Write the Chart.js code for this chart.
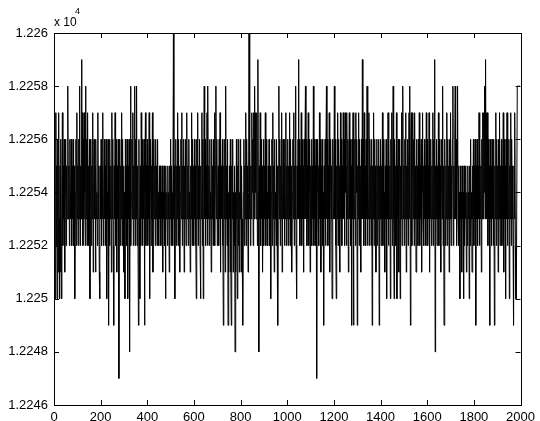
<!DOCTYPE html>
<html>
<head>
<meta charset="utf-8">
<script src="https://cdn.jsdelivr.net/npm/chart.js@4/dist/chart.umd.min.js"></script>
<style>
  html, body { margin: 0; padding: 0; background: #fff; }
  #wrap { width: 540px; height: 421px; position: relative; }
</style>
</head>
<body>
<div id="wrap"><canvas id="myChart"></canvas></div>
<script>
// --- data: one sample every 2 steps (20 per row = 40 steps) ---
const SAMPLE_STEP = 2;
const signal = [
  12257,12251,12256,12250,12257,12252,12255,12250,12256,12251,12257,12253,12250,12255,12251,12256,12250,12254,12257,12252,
  12255,12253,12256,12251,12254,12256,12252,12255,12253,12257,12258,12253,12255,12252,12256,12254,12253,12256,12252,12255,
  12253,12256,12252,12255,12253,12250,12254,12256,12252,12257,12253,12255,12252,12256,12253,12258,12252,12255,12253,12259,
  12253,12257,12252,12256,12253,12257,12254,12252,12258,12253,12256,12252,12257,12253,12255,12252,12256,12250,12254,12256,
  12252,12255,12253,12257,12251,12254,12256,12253,12255,12251,12256,12253,12254,12252,12257,12253,12255,12251,12250,12255,
  12253,12256,12252,12255,12253,12257,12252,12254,12256,12253,12255,12252,12256,12250,12254,12253,12256,12249,12255,12252,
  12256,12253,12255,12251,12257,12253,12256,12252,12249,12255,12253,12257,12252,12256,12254,12251,12255,12253,12256,12247,
  12254,12256,12252,12255,12253,12257,12252,12256,12253,12255,12251,12254,12250,12256,12253,12255,12252,12256,12250,12255,
  12253,12256,12248,12255,12258,12252,12254,12256,12253,12257,12252,12255,12253,12258,12252,12256,12253,12258,12252,12255,
  12254,12249,12256,12253,12250,12255,12252,12257,12253,12256,12252,12255,12253,12256,12249,12254,12257,12252,12255,12253,
  12256,12252,12255,12253,12257,12250,12254,12256,12252,12255,12253,12257,12251,12254,12256,12253,12255,12252,12256,12253,
  12255,12252,12256,12253,12254,12252,12255,12253,12255,12252,12254,12253,12255,12251,12254,12253,12255,12252,12254,12250,
  12255,12253,12254,12252,12255,12253,12254,12251,12255,12253,12256,12252,12255,12253,12254,12252,12260,12253,12255,12250,
  12254,12256,12252,12255,12253,12257,12252,12256,12253,12255,12251,12254,12256,12253,12257,12252,12255,12253,12256,12251,
  12255,12253,12256,12252,12254,12257,12253,12255,12252,12256,12253,12254,12251,12255,12253,12257,12252,12256,12253,12255,
  12252,12256,12253,12255,12252,12250,12256,12253,12257,12252,12255,12253,12256,12252,12250,12255,12253,12257,12252,12256,
  12250,12255,12258,12253,12256,12252,12255,12253,12257,12252,12258,12253,12255,12252,12256,12253,12254,12251,12256,12253,
  12255,12252,12256,12253,12257,12252,12255,12258,12253,12256,12252,12254,12255,12252,12256,12253,12257,12251,12255,12253,
  12254,12256,12252,12249,12255,12253,12256,12251,12258,12253,12255,12252,12256,12249,12254,12251,12255,12253,12256,12251,
  12249,12255,12253,12256,12251,12254,12252,12255,12248,12254,12251,12256,12253,12250,12255,12252,12256,12251,12254,12253,
  12256,12251,12255,12253,12250,12249,12254,12256,12252,12255,12253,12257,12252,12256,12253,12255,12251,12254,12260,12253,
  12256,12252,12255,12253,12257,12254,12256,12252,12257,12253,12258,12254,12257,12253,12256,12257,12252,12259,12254,12248,
  12255,12253,12257,12252,12256,12253,12255,12251,12254,12256,12252,12255,12253,12257,12252,12256,12253,12254,12252,12255,
  12253,12256,12252,12255,12253,12250,12254,12256,12252,12257,12253,12255,12251,12256,12253,12254,12252,12256,12253,12255,
  12249,12255,12258,12253,12256,12252,12255,12253,12257,12251,12254,12256,12253,12255,12252,12256,12253,12257,12252,12255,
  12253,12256,12252,12255,12253,12257,12252,12256,12253,12255,12251,12254,12256,12253,12257,12252,12255,12253,12258,12252,
  12250,12255,12253,12256,12259,12253,12256,12252,12255,12253,12257,12252,12256,12253,12255,12251,12256,12253,12255,12258,
  12253,12256,12252,12255,12253,12257,12252,12254,12256,12251,12255,12253,12256,12252,12255,12253,12258,12252,12256,12253,
  12255,12252,12256,12247,12254,12256,12253,12255,12252,12257,12253,12256,12251,12255,12253,12256,12252,12254,12249,12255,
  12253,12256,12252,12255,12258,12253,12256,12252,12255,12253,12257,12251,12254,12256,12253,12255,12250,12254,12256,12253,
  12255,12258,12253,12256,12252,12250,12255,12253,12257,12252,12256,12253,12255,12251,12257,12253,12256,12252,12255,12253,
  12257,12253,12256,12252,12257,12254,12255,12252,12257,12253,12256,12251,12255,12257,12253,12256,12252,12255,12249,12256,
  12253,12257,12249,12255,12253,12256,12252,12257,12254,12256,12249,12255,12253,12257,12252,12256,12253,12255,12251,12256,
  12253,12259,12253,12256,12252,12257,12253,12255,12252,12256,12253,12258,12252,12255,12253,12257,12252,12256,12253,12255,
  12252,12256,12249,12255,12253,12257,12252,12256,12253,12255,12251,12254,12256,12252,12255,12253,12256,12249,12255,12253,
  12256,12252,12255,12253,12257,12252,12256,12253,12254,12251,12255,12253,12256,12250,12255,12253,12257,12252,12256,12253,
  12255,12250,12256,12253,12257,12252,12255,12258,12253,12250,12256,12253,12255,12252,12257,12250,12255,12253,12256,12251,
  12254,12256,12250,12255,12253,12257,12252,12256,12258,12253,12255,12252,12256,12253,12257,12251,12255,12253,12256,12252,
  12255,12257,12253,12258,12249,12256,12257,12252,12255,12257,12253,12256,12252,12257,12253,12255,12251,12256,12253,12255,
  12252,12256,12253,12257,12252,12255,12253,12256,12251,12254,12257,12253,12255,12252,12256,12253,12255,12252,12257,12253,
  12256,12252,12255,12253,12257,12251,12255,12253,12256,12252,12255,12253,12257,12252,12256,12253,12259,12248,12255,12253,
  12256,12252,12255,12253,12257,12252,12256,12253,12255,12251,12254,12256,12253,12258,12252,12255,12249,12254,12256,12252,
  12255,12253,12257,12252,12256,12253,12255,12251,12256,12253,12257,12252,12255,12253,12256,12258,12252,12255,12253,12256,
  12258,12253,12256,12252,12255,12258,12253,12255,12252,12254,12250,12255,12253,12254,12251,12255,12253,12254,12250,12255,
  12252,12254,12253,12255,12251,12254,12252,12255,12253,12254,12250,12255,12252,12256,12253,12254,12251,12255,12253,12256,
  12252,12255,12253,12256,12249,12255,12253,12256,12252,12255,12253,12257,12252,12256,12253,12255,12251,12256,12253,12257,
  12253,12257,12254,12258,12253,12259,12254,12257,12253,12257,12252,12256,12253,12255,12249,12256,12253,12255,12252,12256,
  12253,12255,12252,12256,12249,12255,12253,12257,12252,12256,12253,12255,12251,12256,12253,12257,12252,12255,12253,12256,
  12252,12255,12253,12257,12251,12256,12253,12255,12250,12256,12253,12257,12252,12255,12253,12256,12250,12255,12253,12257,
  12252,12256,12253,12255,12252,12249,12255,12253,12257,12252,12250,12250,12250,12258,12258,12258,12258,12258,12258,12258,
  12258
];
const xTicks = [0, 200, 400, 600, 800, 1000, 1200, 1400, 1600, 1800, 2000];
const yTicks = [12246, 12248, 12250, 12252, 12254, 12256, 12258, 12260];
const yTickLabels = ['1.2246', '1.2248', '1.225', '1.2252', '1.2254', '1.2256', '1.2258', '1.226'];

const FONT = 'Liberation Sans, Arial, Helvetica, sans-serif';

const points = signal.map((v, i) => ({ x: i * SAMPLE_STEP, y: v }));

// matlab style box: frame all round, ticks pointing inside, exponent label on top
const matlabBox = {
  id: 'matlabBox',
  afterDraw(chart) {
    const { ctx, chartArea: a, scales: { x, y } } = chart;
    ctx.save();
    ctx.strokeStyle = '#000'; ctx.lineWidth = 1;
    ctx.strokeRect(Math.round(a.left) + 0.5, Math.round(a.top) + 0.5,
                   Math.round(a.right - a.left), Math.round(a.bottom - a.top));
    ctx.beginPath();
    xTicks.forEach(v => {
      const px = Math.round(x.getPixelForValue(v)) + 0.5;
      ctx.moveTo(px, a.bottom); ctx.lineTo(px, a.bottom - 5);
      ctx.moveTo(px, a.top); ctx.lineTo(px, a.top + 5);
    });
    yTicks.forEach(v => {
      const py = Math.round(y.getPixelForValue(v)) + 0.5;
      ctx.moveTo(a.left, py); ctx.lineTo(a.left + 5, py);
      ctx.moveTo(a.right, py); ctx.lineTo(a.right - 5, py);
    });
    ctx.stroke();
    ctx.fillStyle = '#000';
    ctx.textBaseline = 'alphabetic';
    ctx.font = '12px ' + FONT;
    ctx.fillText('x 10', a.left, a.top - 7);
    ctx.font = '9px ' + FONT;
    ctx.fillText('4', a.left + 21, a.top - 19);
    ctx.restore();
  }
};

new Chart(document.getElementById('myChart'), {
  type: 'line',
  data: {
    datasets: [{
      data: points,
      borderColor: '#000', borderWidth: 1,
      pointRadius: 0, tension: 0, fill: false
    }]
  },
  options: {
    responsive: true, maintainAspectRatio: false, animation: false,
    layout: { padding: { top: 33, right: 17, left: 0, bottom: 0 } },
    plugins: { legend: { display: false }, tooltip: { enabled: false } },
    scales: {
      x: {
        type: 'linear', min: 0, max: 2000,
        afterBuildTicks: s => { s.ticks = xTicks.map(v => ({ value: v })); },
        afterFit: s => { s.height = 16; },
        grid: { display: false, drawTicks: false },
        border: { display: false },
        ticks: {
          color: '#000', padding: 5, maxRotation: 0, font: { family: FONT, size: 13 },
          callback: v => String(v)
        }
      },
      y: {
        min: 12246, max: 12260,
        afterBuildTicks: s => { s.ticks = yTicks.map(v => ({ value: v })); },
        afterFit: s => { s.width = 54; },
        grid: { display: false, drawTicks: false },
        border: { display: false },
        ticks: {
          color: '#000', padding: 6, font: { family: FONT, size: 13 },
          callback: v => yTickLabels[yTicks.indexOf(v)]
        }
      }
    }
  },
  plugins: [matlabBox]
});
</script>
</body>
</html>
